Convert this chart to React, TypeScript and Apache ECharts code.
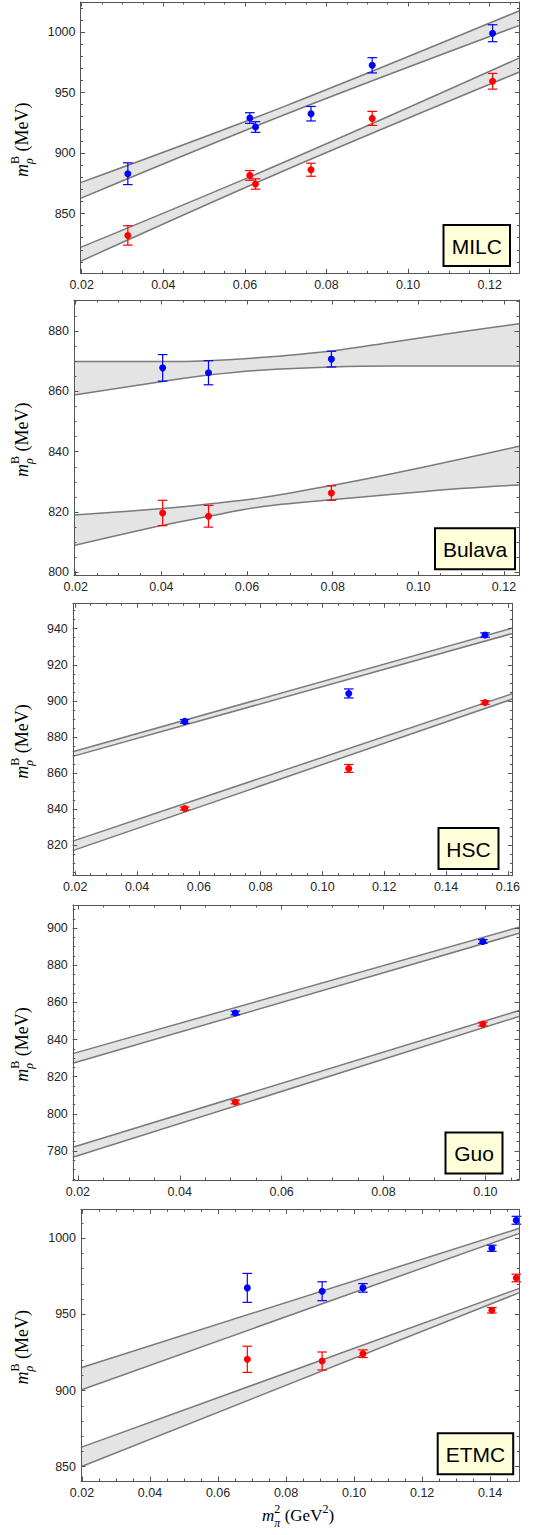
import React, { useEffect, useRef } from "react";
import * as echarts from "echarts";

// ---------------- MILC ----------------
const milcX = [0.0313, 0.0612, 0.0626, 0.0762, 0.0912, 0.1207];
const milcBlue = [882.9, 928.9, 921.5, 932.5, 972.5, 999.0];
const milcBlueErr = [9.0, 4.4, 4.4, 6.0, 6.3, 7.0];
const milcRed = [831.9, 881.5, 874.4, 886.2, 928.6, 959.3];
const milcRedErr = [8.0, 4.0, 4.3, 5.4, 5.8, 6.5];
const milcBandX = [0.0197, 0.07, 0.1273];
const milcBlueUpper = [875.5, 939.0, 1017.6];
const milcBlueLower = [862.5, 932.0, 1005.5];
const milcRedUpper = [822.0, 893.0, 978.6];
const milcRedLower = [810.5, 886.0, 967.0];
const milcXTicks = [0.02, 0.04, 0.06, 0.08, 0.1, 0.12];
const milcYTicks = [850, 900, 950, 1000];

// ---------------- Bulava ----------------
const bulavaX = [0.0403, 0.051, 0.0797];
const bulavaBlue = [867.8, 866.2, 870.7];
const bulavaBlueErr = [4.4, 4.0, 2.6];
const bulavaRed = [819.7, 818.6, 826.3];
const bulavaRedErr = [4.2, 3.6, 2.4];
const bulavaBandX = [0.0196, 0.0403, 0.051, 0.063, 0.0797, 0.0941, 0.1097, 0.1235];
const bulavaBlueUpper = [869.9, 869.9, 870.2, 871.2, 873.4, 876.4, 879.7, 882.4];
const bulavaBlueLower = [858.8, 863.3, 865.4, 867.0, 868.1, 868.4, 868.4, 868.4];
const bulavaRedUpper = [819.0, 821.2, 822.7, 824.7, 828.8, 832.8, 837.5, 841.8];
const bulavaRedLower = [808.9, 815.6, 818.6, 821.7, 824.1, 825.9, 827.8, 829.0];
const bulavaXTicks = [0.02, 0.04, 0.06, 0.08, 0.1, 0.12];
const bulavaYTicks = [800, 820, 840, 860, 880];

// ---------------- HSC ----------------
const hscX = [0.0554, 0.1085, 0.1526];
const hscBlue = [888.6, 904.1, 936.5];
const hscBlueErr = [1.0, 2.5, 1.2];
const hscRed = [840.3, 862.5, 899.1];
const hscRedErr = [0.8, 2.2, 1.0];
const hscBandX = [0.0192, 0.1615];
const hscBlueUpper = [871.8, 940.4];
const hscBlueLower = [869.2, 937.4];
const hscRedUpper = [822.2, 904.0];
const hscRedLower = [816.9, 901.0];
const hscXTicks = [0.02, 0.04, 0.06, 0.08, 0.1, 0.12, 0.14, 0.16];
const hscYTicks = [820, 840, 860, 880, 900, 920, 940];

// ---------------- Guo ----------------
const guoX = [0.0509, 0.0995];
const guoBlue = [854.3, 892.8];
const guoBlueErr = [1.0, 1.0];
const guoRed = [806.4, 848.3];
const guoRedErr = [1.0, 1.0];
const guoBandX = [0.019, 0.1066];
const guoBlueUpper = [832.4, 900.5];
const guoBlueLower = [827.2, 897.2];
const guoRedUpper = [782.0, 855.6];
const guoRedLower = [776.6, 852.4];
const guoXTicks = [0.02, 0.04, 0.06, 0.08, 0.1];
const guoYTicks = [780, 800, 820, 840, 860, 880, 900];

// ---------------- ETMC ----------------
const etmcX = [0.0686, 0.0906, 0.1026, 0.1405, 0.1477];
const etmcBlue = [967.4, 965.2, 967.4, 993.4, 1011.8];
const etmcBlueErr = [9.5, 6.2, 2.8, 2.0, 2.6];
const etmcRed = [920.5, 919.4, 924.2, 952.7, 973.9];
const etmcRedErr = [8.6, 5.9, 2.5, 1.8, 2.5];
const etmcBandX = [0.0197, 0.1486];
const etmcBlueUpper = [915.0, 1006.5];
const etmcBlueLower = [900.4, 1003.2];
const etmcRedUpper = [862.7, 967.1];
const etmcRedLower = [850.0, 964.3];
const etmcXTicks = [0.02, 0.04, 0.06, 0.08, 0.1, 0.12, 0.14];
const etmcYTicks = [850, 900, 950, 1000];

const FRAME = "#555555";
const LABEL = "#262626";
const BLUE = "#0000ff";
const RED = "#ff0000";
const BAND_FILL = "#e4e4e4";
const BAND_LINE = "#7a7a7a";
const BOX_FILL = "#ffffd9";

function steps(a: number, b: number, s: number): number[] {
  const out: number[] = [];
  const n = Math.round((b - a) / s);
  for (let i = 0; i <= n; i++) out.push(+(a + i * s).toFixed(6));
  return out;
}

const panels = [
  {
    name: "MILC", x: milcX, blue: milcBlue, blueErr: milcBlueErr, red: milcRed, redErr: milcRedErr,
    bandX: milcBandX, bu: milcBlueUpper, bl: milcBlueLower, ru: milcRedUpper, rl: milcRedLower,
    xMajor: milcXTicks, xMinor: steps(0.02, 0.125, 0.005), yMajor: milcYTicks, yMinor: steps(810, 1020, 10),
    xMin: 0.0197, xMax: 0.1273, yMin: 800.6, yMax: 1024.8,
    grid: { left: 80.5, top: 2, width: 439, height: 271.3 }, box: [443.5, 225, 66.5, 41], smooth: 0.35,
  },
  {
    name: "Bulava", x: bulavaX, blue: bulavaBlue, blueErr: bulavaBlueErr, red: bulavaRed, redErr: bulavaRedErr,
    bandX: bulavaBandX, bu: bulavaBlueUpper, bl: bulavaBlueLower, ru: bulavaRedUpper, rl: bulavaRedLower,
    xMajor: bulavaXTicks, xMinor: steps(0.02, 0.12, 0.005), yMajor: bulavaYTicks, yMinor: steps(800, 890, 5),
    xMin: 0.0196, xMax: 0.1235, yMin: 798.9, yMax: 890.3,
    grid: { left: 74, top: 300, width: 445, height: 275.7 }, box: [435, 528.3, 80, 41], smooth: 0.35,
  },
  {
    name: "HSC", x: hscX, blue: hscBlue, blueErr: hscBlueErr, red: hscRed, redErr: hscRedErr,
    bandX: hscBandX, bu: hscBlueUpper, bl: hscBlueLower, ru: hscRedUpper, rl: hscRedLower,
    xMajor: hscXTicks, xMinor: steps(0.02, 0.16, 0.005), yMajor: hscYTicks, yMinor: steps(805, 950, 5),
    xMin: 0.0192, xMax: 0.1615, yMin: 803, yMax: 954.1,
    grid: { left: 72.8, top: 603.3, width: 439.7, height: 272.4 }, box: [438.5, 828, 60, 41], smooth: false,
  },
  {
    name: "Guo", x: guoX, blue: guoBlue, blueErr: guoBlueErr, red: guoRed, redErr: guoRedErr,
    bandX: guoBandX, bu: guoBlueUpper, bl: guoBlueLower, ru: guoRedUpper, rl: guoRedLower,
    xMajor: guoXTicks, xMinor: steps(0.02, 0.105, 0.005), yMajor: guoYTicks, yMinor: steps(765, 910, 5),
    xMin: 0.019, xMax: 0.1066, yMin: 764.4, yMax: 912.4,
    grid: { left: 72.8, top: 905, width: 446.2, height: 275 }, box: [445.5, 1132.5, 57, 41], smooth: false,
  },
  {
    name: "ETMC", x: etmcX, blue: etmcBlue, blueErr: etmcBlueErr, red: etmcRed, redErr: etmcRedErr,
    bandX: etmcBandX, bu: etmcBlueUpper, bl: etmcBlueLower, ru: etmcRedUpper, rl: etmcRedLower,
    xMajor: etmcXTicks, xMinor: steps(0.02, 0.145, 0.005), yMajor: etmcYTicks, yMinor: steps(850, 1010, 10),
    xMin: 0.0197, xMax: 0.1486, yMin: 840.6, yMax: 1019,
    grid: { left: 81, top: 1209.3, width: 438.4, height: 271.7 }, box: [437.7, 1433.3, 75.5, 41], smooth: false,
  },
];

const SERIF = '"Liberation Serif", "Times New Roman", serif';
const SANS = '"Liberation Sans", Arial, sans-serif';

type Bit = { t: string; f: string; dy: number };
type Piece = Bit | { stack: Bit[] } | { gap: number };

function buildLabel(pieces: Piece[], measure: (t: string, f: string) => number) {
  let x = 0;
  const items: (Bit & { x: number })[] = [];
  for (const p of pieces) {
    if ("stack" in p) {
      let w = 0;
      for (const s of p.stack) {
        items.push({ ...s, x });
        w = Math.max(w, measure(s.t, s.f));
      }
      x += w;
    } else if ("gap" in p) {
      x += p.gap;
    } else {
      items.push({ ...p, x });
      x += measure(p.t, p.f);
    }
  }
  const total = x;
  return items.map((it) => ({
    type: "text",
    x: it.x - total / 2,
    y: it.dy,
    z: 100,
    style: {
      text: it.t,
      font: it.f,
      fill: "#000",
      textAlign: "left",
      textVerticalAlign: "middle",
      align: "left",
      verticalAlign: "middle",
    },
  }));
}

export default function App() {
  const ref = useRef<HTMLDivElement>(null);
  useEffect(() => {
    document.body.style.margin = "0";
    if (!ref.current) return;
    const chart = echarts.init(ref.current, undefined, { renderer: "svg" });
    const canvas = document.createElement("canvas");
    const ctx = canvas.getContext("2d")!;
    const measure = (t: string, f: string) => {
      ctx.font = f;
      return ctx.measureText(t).width;
    };

    const grids: any[] = [];
    const xAxes: any[] = [];
    const yAxes: any[] = [];
    const series: any[] = [];
    const graphics: any[] = [];

    const mkX = (gi: number, p: any, pos: string, major: boolean, label: boolean) => ({
      type: "value", gridIndex: gi, position: pos, min: p.xMin, max: p.xMax, z: 5,
      axisLine: { show: major, onZero: false, lineStyle: { color: FRAME, width: 1 } },
      axisTick: { show: true, inside: true, length: major ? 4.5 : 2.5, customValues: major ? p.xMajor : p.xMinor, lineStyle: { color: FRAME, width: 1 } },
      axisLabel: { show: label, customValues: p.xMajor, formatter: (v: number) => v.toFixed(2), margin: 5, fontSize: 12.5, color: LABEL, fontFamily: SANS },
      splitLine: { show: false },
    });
    const mkY = (gi: number, p: any, pos: string, major: boolean, label: boolean) => ({
      type: "value", gridIndex: gi, position: pos, min: p.yMin, max: p.yMax, z: 5,
      axisLine: { show: major, onZero: false, lineStyle: { color: FRAME, width: 1 } },
      axisTick: { show: true, inside: true, length: major ? 4.5 : 2.5, customValues: major ? p.yMajor : p.yMinor, lineStyle: { color: FRAME, width: 1 } },
      axisLabel: { show: label, customValues: p.yMajor, formatter: (v: number) => String(Math.round(v)), margin: 5, fontSize: 12.5, color: LABEL, fontFamily: SANS },
      splitLine: { show: false },
    });

    panels.forEach((p, i) => {
      grids.push({ ...p.grid, containLabel: false });
      const xi = xAxes.length;
      xAxes.push(mkX(i, p, "bottom", true, true));
      xAxes.push(mkX(i, p, "bottom", false, false));
      xAxes.push(mkX(i, p, "top", true, false));
      xAxes.push(mkX(i, p, "top", false, false));
      const yi = yAxes.length;
      yAxes.push(mkY(i, p, "left", true, true));
      yAxes.push(mkY(i, p, "left", false, false));
      yAxes.push(mkY(i, p, "right", true, false));
      yAxes.push(mkY(i, p, "right", false, false));

      const bandLine = (vals: number[], fill: string, name: string) => ({
        type: "line", name, xAxisIndex: xi, yAxisIndex: yi, z: 1,
        data: p.bandX.map((x, k) => [x, vals[k]]),
        smooth: p.smooth, symbol: "none", showSymbol: false, silent: true,
        lineStyle: { color: BAND_LINE, width: 1.5 },
        areaStyle: { color: fill, opacity: 1, origin: "start" },
      });
      series.push(bandLine(p.bu, BAND_FILL, p.name + " blue upper"));
      series.push(bandLine(p.bl, "#ffffff", p.name + " blue lower"));
      series.push(bandLine(p.ru, BAND_FILL, p.name + " red upper"));
      series.push(bandLine(p.rl, "#ffffff", p.name + " red lower"));

      const errSeries = (vals: number[], errs: number[], color: string, name: string) => ({
        type: "custom", name, xAxisIndex: xi, yAxisIndex: yi, z: 3, silent: true,
        data: p.x.map((x, k) => [x, vals[k], errs[k]]),
        encode: { x: 0, y: 1 },
        renderItem: (_params: any, api: any) => {
          const x = api.value(0), y = api.value(1), e = api.value(2);
          const top = api.coord([x, y + e]);
          const bot = api.coord([x, y - e]);
          const hw = 4.8;
          const style = { stroke: color, lineWidth: 1.2, fill: "none" };
          return {
            type: "group",
            children: [
              { type: "line", shape: { x1: top[0], y1: top[1], x2: bot[0], y2: bot[1] }, style },
              { type: "line", shape: { x1: top[0] - hw, y1: top[1], x2: top[0] + hw, y2: top[1] }, style },
              { type: "line", shape: { x1: bot[0] - hw, y1: bot[1], x2: bot[0] + hw, y2: bot[1] }, style },
            ],
          };
        },
      });
      series.push(errSeries(p.blue, p.blueErr, BLUE, p.name + " blue err"));
      series.push(errSeries(p.red, p.redErr, RED, p.name + " red err"));

      const pts = (vals: number[], color: string, name: string) => ({
        type: "scatter", name, xAxisIndex: xi, yAxisIndex: yi, z: 4, silent: true,
        data: p.x.map((x, k) => [x, vals[k]]),
        symbol: "circle", symbolSize: 7,
        itemStyle: { color, opacity: 1 },
      });
      series.push(pts(p.blue, BLUE, p.name + " blue"));
      series.push(pts(p.red, RED, p.name + " red"));

      // y-axis title (rotated)
      const cy = p.grid.top + p.grid.height / 2 + 2;
      graphics.push({
        type: "group", x: 27, y: cy, rotation: Math.PI / 2, z: 100,
        children: buildLabel(
          [
            { t: "m", f: `italic 18px ${SERIF}`, dy: -5.4 },
            { stack: [
              { t: "B", f: `12px ${SERIF}`, dy: -12.5 },
              { t: "ρ", f: `italic 12px ${SERIF}`, dy: 1.8 },
            ] },
            { gap: 4.5 },
            { t: "(MeV)", f: `18px ${SERIF}`, dy: -5.4 },
          ],
          measure
        ),
      });

      // label box
      const [bx, by, bw, bh] = p.box;
      graphics.push({
        type: "group", x: bx, y: by, z: 100,
        children: [
          { type: "rect", z: 100, shape: { x: 0, y: 0, width: bw, height: bh }, style: { fill: BOX_FILL, stroke: "#000", lineWidth: 2 } },
          {
            type: "text", z: 101, x: bw / 2, y: bh / 2 + 0.5,
            style: { text: p.name, font: `21px ${SANS}`, fill: "#000", textAlign: "center", textVerticalAlign: "middle", align: "center", verticalAlign: "middle" },
          },
        ],
      });
    });

    // x-axis title
    graphics.push({
      type: "group", x: 298, y: 1521, z: 100,
      children: buildLabel(
        [
          { t: "m", f: `italic 17px ${SERIF}`, dy: -5.1 },
          { stack: [
            { t: "2", f: `12px ${SERIF}`, dy: -12 },
            { t: "π", f: `italic 12px ${SERIF}`, dy: 1.8 },
          ] },
          { gap: 4.5 },
          { t: "(GeV", f: `17px ${SERIF}`, dy: -5.1 },
          { t: "2", f: `12px ${SERIF}`, dy: -12 },
          { t: ")", f: `17px ${SERIF}`, dy: -5.1 },
        ],
        measure
      ),
    });

    chart.setOption({
      animation: false,
      backgroundColor: "#ffffff",
      grid: grids,
      xAxis: xAxes,
      yAxis: yAxes,
      series,
      graphic: { elements: graphics },
    });
    return () => chart.dispose();
  }, []);
  return <div ref={ref} style={{ width: 537, height: 1535 }} />;
}
